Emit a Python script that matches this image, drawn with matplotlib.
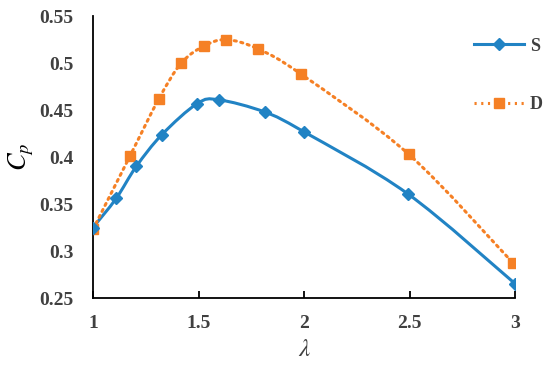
import numpy as np
import matplotlib
matplotlib.use("Agg")
import matplotlib.pyplot as plt
from matplotlib.path import Path
from matplotlib.patches import PathPatch
from matplotlib.lines import Line2D

# tip speed ratio and power coefficient
lam_s = [1.0, 1.11, 1.205, 1.327, 1.494, 1.595, 1.813, 1.998, 2.49, 3.0]
cp_s = [0.325, 0.356, 0.390, 0.424, 0.457, 0.461, 0.448, 0.427, 0.361, 0.265]

lam_d = [1.0, 1.175, 1.312, 1.418, 1.524, 1.632, 1.783, 1.987, 2.495, 2.99]
cp_d = [0.323, 0.401, 0.462, 0.500, 0.518, 0.525, 0.515, 0.488, 0.403, 0.287]

blue = '#2183C4'
orange = '#F58025'
grey = '#404040'

plt.rcParams['font.family'] = ['Liberation Serif', 'DejaVu Serif']
plt.rcParams['mathtext.fontset'] = 'stix'


def smooth_path(x, y):
    # Excel-like smoothed line: cubic bezier segments with catmull-rom tangents
    p = np.column_stack([x, y])
    n = len(p)
    verts = [p[0]]
    codes = [Path.MOVETO]
    for i in range(n - 1):
        p0 = p[i - 1] if i > 0 else p[i]
        p3 = p[i + 2] if i + 2 < n else p[i + 1]
        c1 = p[i] + (p[i + 1] - p0) / 6.0
        c2 = p[i + 1] - (p3 - p[i]) / 6.0
        verts += [c1, c2, p[i + 1]]
        codes += [Path.CURVE4] * 3
    return Path(verts, codes)


fig = plt.figure(figsize=(5.5, 3.67), dpi=100)
ax = fig.add_axes([0.169, 0.188, 0.768, 0.768])

dots = (0, (0.7, 1.5))
ax.add_patch(PathPatch(smooth_path(lam_s, cp_s), fill=False, edgecolor=blue,
                       lw=2.2, zorder=2))
ax.add_patch(PathPatch(smooth_path(lam_d, cp_d), fill=False, edgecolor=orange,
                       lw=2.2, linestyle=dots, capstyle='round', zorder=2))
ax.plot(lam_s, cp_s, linestyle='none', marker='D', ms=5.8, color=blue, zorder=4)
ax.plot(lam_d, cp_d, linestyle='none', marker='s', ms=7.5, color=orange, zorder=3)

ax.set_xlim(1, 3)
ax.set_ylim(0.25, 0.55)
ax.set_xticks([1, 1.5, 2, 2.5, 3])
ax.set_xticklabels(['1', '1.5', '2', '2.5', '3'])
ax.set_yticks([0.25, 0.3, 0.35, 0.4, 0.45, 0.5, 0.55])
ax.set_yticklabels(['0.25', '0.3', '0.35', '0.4', '0.45', '0.5', '0.55'])

for s in ['top', 'right']:
    ax.spines[s].set_visible(False)
for s in ['left', 'bottom']:
    ax.spines[s].set_linewidth(1.3)
ax.tick_params(axis='x', direction='in', length=5, width=1.3, pad=12,
               labelsize=14, labelcolor=grey)
ax.tick_params(axis='y', direction='in', length=0, pad=14,
               labelsize=14, labelcolor=grey)
for lb in ax.get_xticklabels() + ax.get_yticklabels():
    lb.set_fontweight('bold')

ax.set_xlabel(r'$\lambda$', fontsize=18, labelpad=5)
ax.set_ylabel(r'$C_p$', fontsize=19, labelpad=2)
ax.xaxis.label.set_color(grey)

handles = [
    Line2D([], [], color=blue, lw=2.2, marker='D', ms=5.8),
    Line2D([], [], color=orange, lw=2.2, linestyle=dots, marker='s', ms=7.5),
]
leg = fig.legend(handles, ['S', 'D'], loc='upper left',
                 bbox_to_anchor=(0.862, 0.897), frameon=False, handlelength=2.75,
                 labelspacing=2.3, handletextpad=0.35, borderpad=0,
                 borderaxespad=0, prop={'weight': 'bold', 'size': 13})
for t in leg.get_texts():
    t.set_color(grey)

fig.savefig('out.png', dpi=100)
